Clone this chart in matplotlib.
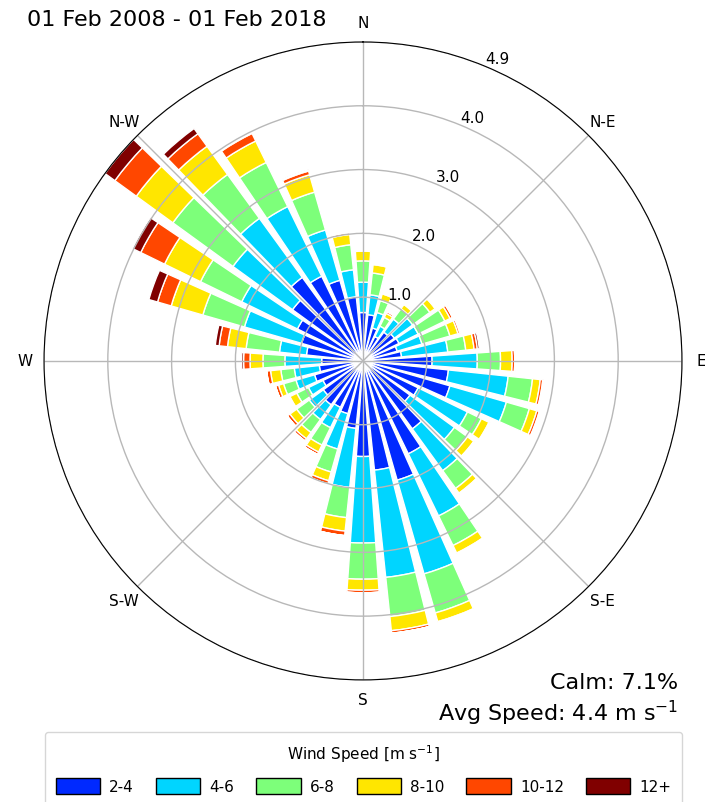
import numpy as np
import matplotlib
matplotlib.use("Agg")
import matplotlib.pyplot as plt
from matplotlib.patches import Patch

# Direction sectors (degrees, clockwise from north)
directions = np.arange(0, 360, 10)

# Frequency (%) of each speed class per direction sector
freq_2_4 = [0.75, 0.72, 0.53, 0.42, 0.55, 0.60, 0.62, 0.55, 0.60, 1.07, 1.33, 1.40,
            0.95, 0.90, 1.30, 1.60, 1.92, 1.70, 1.48, 1.05, 0.85, 0.80, 0.84, 0.76,
            0.69, 0.78, 0.68, 0.64, 0.88, 0.99, 1.13, 1.35, 1.60, 1.46, 1.30, 1.00]
freq_4_6 = [0.47, 0.31, 0.25, 0.18, 0.25, 0.35, 0.33, 0.40, 0.72, 0.70, 0.93, 0.91,
            0.85, 0.85, 0.80, 1.07, 1.51, 1.67, 1.34, 0.92, 0.57, 0.35, 0.28, 0.27,
            0.25, 0.30, 0.39, 0.57, 0.42, 0.92, 0.96, 1.14, 1.13, 1.20, 0.81, 0.42]
freq_6_8 = [0.33, 0.34, 0.19, 0.15, 0.20, 0.33, 0.46, 0.45, 0.28, 0.36, 0.38, 0.37,
            0.24, 0.25, 0.34, 0.51, 0.63, 0.61, 0.56, 0.47, 0.37, 0.30, 0.25, 0.24,
            0.20, 0.20, 0.21, 0.34, 0.52, 0.67, 0.71, 1.15, 0.84, 0.76, 0.61, 0.39]
freq_8_10 = [0.15, 0.13, 0.11, 0.07, 0.08, 0.10, 0.09, 0.13, 0.13, 0.18, 0.12, 0.12,
             0.13, 0.12, 0.09, 0.13, 0.14, 0.22, 0.17, 0.21, 0.14, 0.12, 0.12, 0.13,
             0.12, 0.08, 0.16, 0.20, 0.29, 0.51, 0.62, 0.70, 0.54, 0.37, 0.28, 0.16]
freq_10_12 = [0.02, 0.02, 0.02, 0.03, 0.01, 0.02, 0.04, 0.03, 0.05, 0.04, 0.04, 0.04,
              0.02, 0.01, 0.02, 0.02, 0.02, 0.04, 0.04, 0.07, 0.05, 0.04, 0.04, 0.05,
              0.02, 0.05, 0.06, 0.10, 0.13, 0.22, 0.41, 0.41, 0.24, 0.13, 0.06, 0.03]
freq_12_plus = [0.00, 0.00, 0.00, 0.00, 0.00, 0.00, 0.01, 0.01, 0.03, 0.01, 0.01, 0.01,
                0.00, 0.00, 0.00, 0.00, 0.00, 0.00, 0.00, 0.00, 0.00, 0.00, 0.00, 0.00,
                0.00, 0.00, 0.00, 0.03, 0.06, 0.14, 0.14, 0.19, 0.10, 0.02, 0.02, 0.00]

speed_labels = ["2-4", "4-6", "6-8", "8-10", "10-12", "12+"]
compass_labels = ["N", "N-E", "E", "S-E", "S", "S-W", "W", "N-W"]
period_text = "01 Feb 2008 - 01 Feb 2018"
calm_pct = 7.1
avg_speed = 4.4

table = np.array([freq_2_4, freq_4_6, freq_6_8, freq_8_10, freq_10_12, freq_12_plus])
colors = plt.get_cmap("jet")(np.linspace(0.0, 1.0, len(speed_labels) + 1))[1:]

fig = plt.figure(figsize=(7.05, 8.03), dpi=100)
ax = fig.add_axes([0.0624, 0.152, 0.905, 0.7945], projection="polar")
ax.set_theta_zero_location("N")
ax.set_theta_direction(-1)

theta = np.deg2rad(directions)
width = np.deg2rad(10) * 0.8
bottom = np.zeros(len(directions))
for i, row in enumerate(table):
    ax.bar(theta, row, width=width, bottom=bottom, color=colors[i],
           edgecolor="white", linewidth=1.0, align="center")
    bottom = bottom + row

rmax = bottom.max()
ax.set_ylim(0, rmax)
radii = np.linspace(rmax / 5, rmax, 5)
ax.set_rgrids(radii, labels=[f"{r:.1f}" for r in radii], angle=22.5, fontsize=11)
ax.set_xticks(np.deg2rad(np.arange(0, 360, 45)))
ax.set_xticklabels(compass_labels, fontsize=11)
ax.grid(True, color="#b8b8b8", linewidth=1.0)
ax.spines["polar"].set_color("black")

fig.text(27 / 705, 1 - 20 / 803, period_text, fontsize=16, ha="left", va="center")
fig.text(678 / 705, 1 - 683 / 803, f"Calm: {calm_pct:.1f}%", fontsize=16,
         ha="right", va="center")
fig.text(678 / 705, 1 - 713 / 803, f"Avg Speed: {avg_speed:.1f} m s$^{{-1}}$",
         fontsize=16, ha="right", va="center")

handles = [Patch(facecolor=c, edgecolor="black", label=l)
           for c, l in zip(colors, speed_labels)]
fig.legend(handles=handles, loc="upper left",
           bbox_to_anchor=(45 / 705, 0, 637 / 705, 1 - 733 / 803),
           mode="expand", ncol=6, title="Wind Speed [m s$^{-1}$]",
           fontsize=11, title_fontsize=11, borderaxespad=0, borderpad=0.7,
           labelspacing=0.9, handlelength=2.9, handleheight=1.25,
           handletextpad=0.6)

fig.savefig("out.png", dpi=100)
